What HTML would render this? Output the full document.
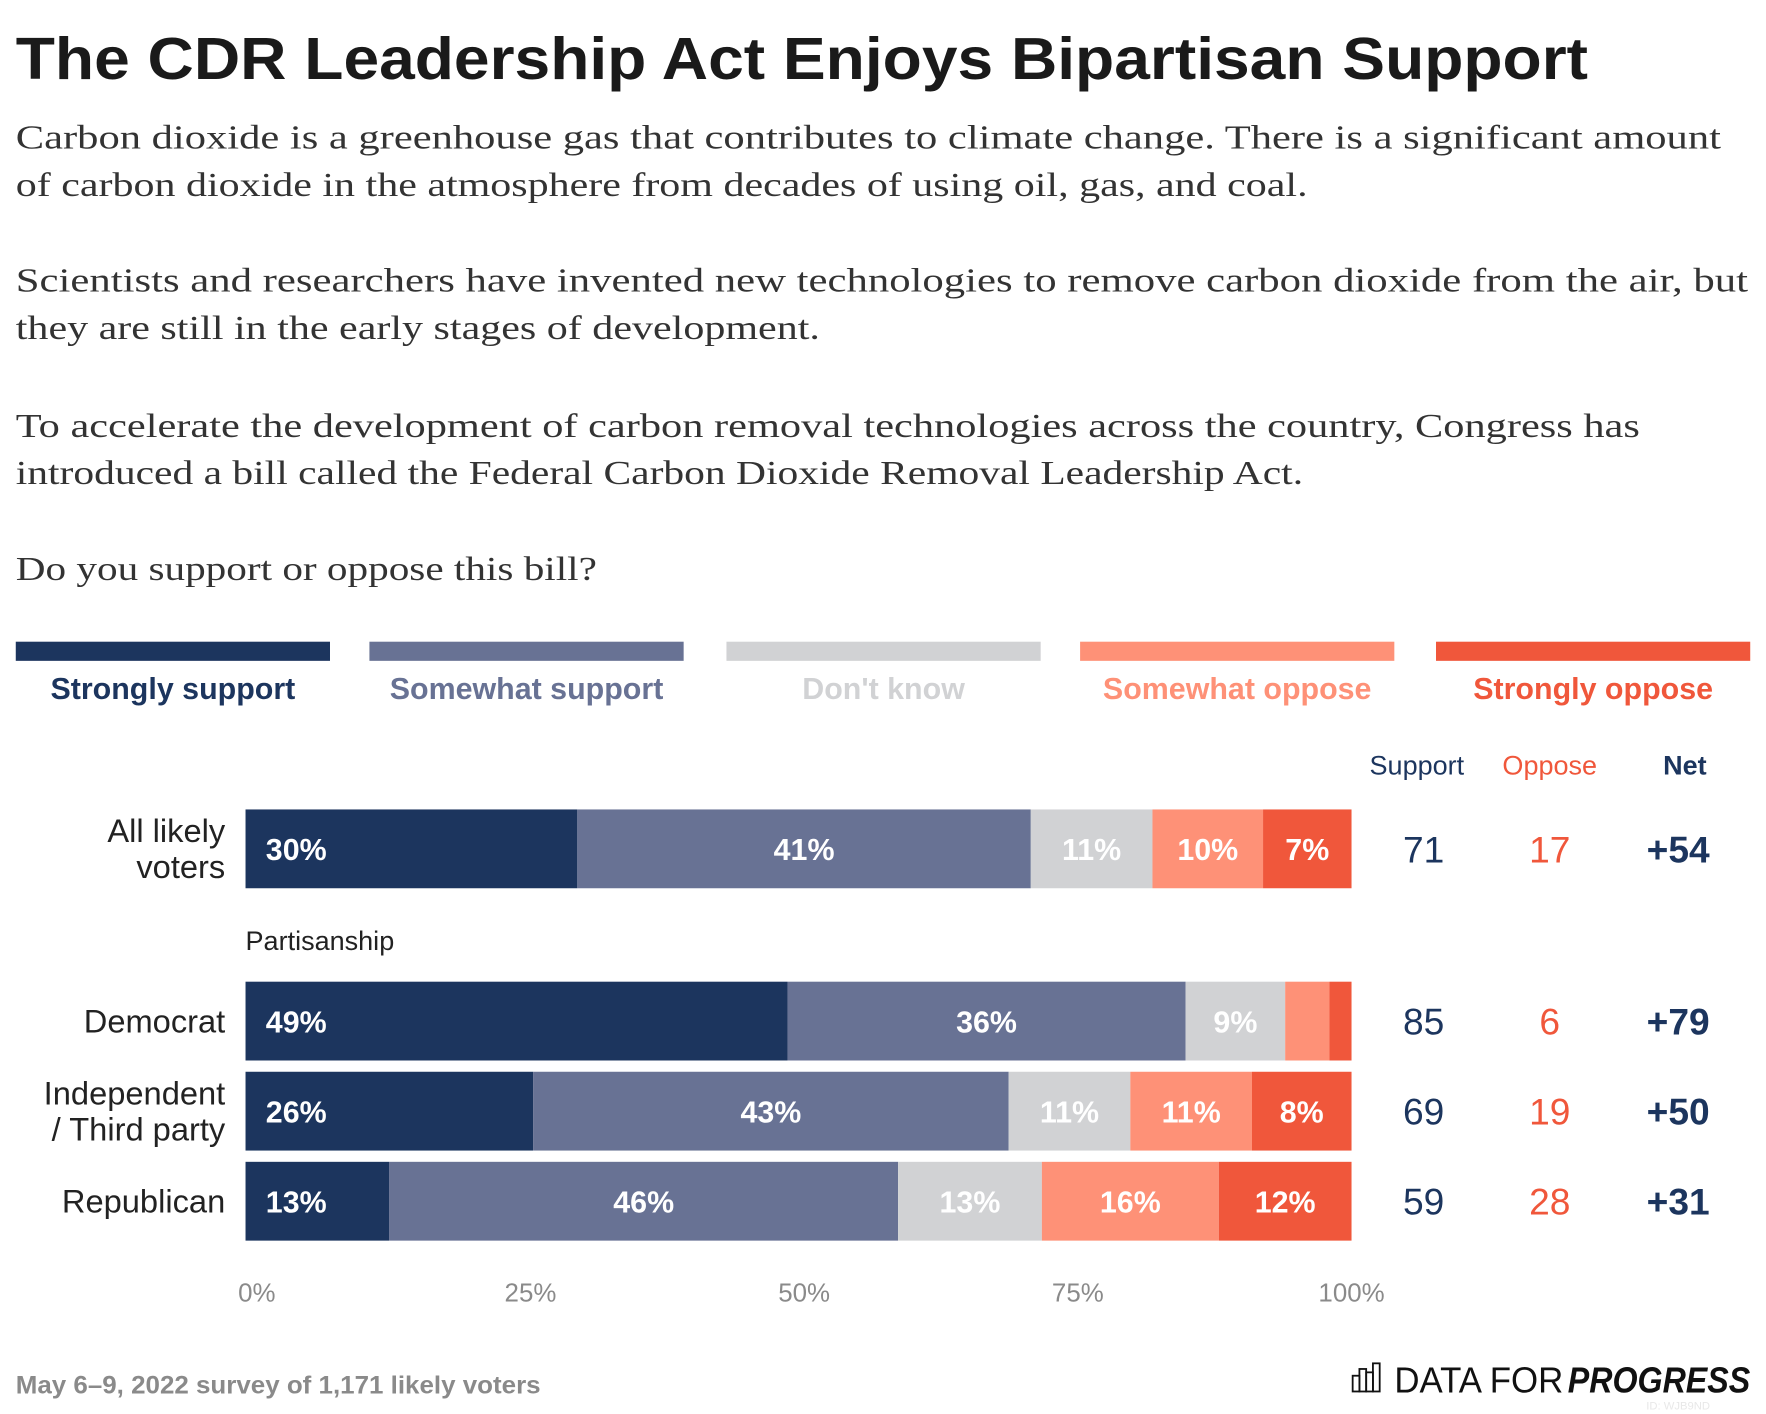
<!DOCTYPE html>
<html><head><meta charset="utf-8">
<style>
html,body{margin:0;padding:0;background:#fff;}
svg{display:block;}
.sans{font-family:"Liberation Sans",sans-serif;}
.serif{font-family:"Liberation Serif",serif;}
</style></head>
<body>
<svg id="chart" width="1766" height="1414" viewBox="0 0 1568 1256" preserveAspectRatio="none" xmlns="http://www.w3.org/2000/svg">
<rect width="1568" height="1256" fill="#fff"/>
<text class="sans" x="14" y="70" font-size="53" font-weight="bold" fill="#1a1a1a" textLength="1396" lengthAdjust="spacingAndGlyphs">The CDR Leadership Act Enjoys Bipartisan Support</text>
<g class="serif" font-size="30" fill="#333">
<text x="14" y="132" textLength="1514" lengthAdjust="spacingAndGlyphs">Carbon dioxide is a greenhouse gas that contributes to climate change. There is a significant amount</text>
<text x="14" y="174" textLength="1147" lengthAdjust="spacingAndGlyphs">of carbon dioxide in the atmosphere from decades of using oil, gas, and coal.</text>
<text x="14" y="259" textLength="1538" lengthAdjust="spacingAndGlyphs">Scientists and researchers have invented new technologies to remove carbon dioxide from the air, but</text>
<text x="14" y="301" textLength="714" lengthAdjust="spacingAndGlyphs">they are still in the early stages of development.</text>
<text x="14" y="388" textLength="1442" lengthAdjust="spacingAndGlyphs">To accelerate the development of carbon removal technologies across the country, Congress has</text>
<text x="14" y="430" textLength="1143" lengthAdjust="spacingAndGlyphs">introduced a bill called the Federal Carbon Dioxide Removal Leadership Act.</text>
<text x="14" y="515" textLength="516" lengthAdjust="spacingAndGlyphs">Do you support or oppose this bill?</text>
</g>
<g id="legend"></g>
<g id="bars"></g>
<g id="axis"></g>
<text class="sans" x="218" y="844" font-size="24" fill="#222">Partisanship</text>
<g class="sans" font-size="24" text-anchor="middle">
<text x="1258" y="688" fill="#1c355e">Support</text>
<text x="1376" y="688" fill="#f0573b">Oppose</text>
<text x="1496" y="688" fill="#1c355e" font-weight="bold">Net</text>
</g>
<text class="sans" x="14" y="1238" font-size="22" font-weight="bold" fill="#8a8a8a" textLength="466" lengthAdjust="spacingAndGlyphs">May 6–9, 2022 survey of 1,171 likely voters</text>
<g>
<rect x="1201" y="1222" width="6" height="14" fill="none" stroke="#111" stroke-width="1.6"/>
<rect x="1207" y="1216" width="6" height="20" fill="none" stroke="#111" stroke-width="1.6"/>
<rect x="1213" y="1219" width="6" height="17" fill="none" stroke="#111" stroke-width="1.6"/>
<rect x="1219" y="1211" width="6" height="25" fill="none" stroke="#111" stroke-width="1.6"/>
<text class="sans" x="1238" y="1237" font-size="32" fill="#111" textLength="150" lengthAdjust="spacingAndGlyphs">DATA FOR</text>
<text class="sans" x="1392" y="1237" font-size="32" font-weight="bold" font-style="italic" fill="#111" textLength="162" lengthAdjust="spacingAndGlyphs">PROGRESS</text>
<text x="1490" y="1252" font-size="10" fill="#e8e8e8" class="sans" text-anchor="middle">ID: WJB9ND</text>
</g>
</svg>
<script>
const categories = ["Strongly support","Somewhat support","Don't know","Somewhat oppose","Strongly oppose"];
const rowLabels = [["All likely","voters"],["Democrat"],["Independent","/ Third party"],["Republican"]];
const strongSupport = [30,49,26,13];
const someSupport = [41,36,43,46];
const dontKnow = [11,9,11,13];
const someOppose = [10,4,11,16];
const strongOppose = [7,2,8,12];
const supportTotals = [71,85,69,59];
const opposeTotals = [17,6,19,28];
const netValues = ["+54","+79","+50","+31"];
const tickValues = [0,25,50,75,100];
const tickLabels = ["0%","25%","50%","75%","100%"];

const colors = ["#1c355e","#687294","#d1d2d4","#fe9177","#f0573b"];
const NS = "http://www.w3.org/2000/svg";
const X0 = 218, X1 = 1200;
const x = v => X0 + (X1 - X0) * v / 100;
const rowY = [719, 872, 952, 1032];
const barH = 70;
function mk(tag, attrs, parent, text){
  const e = document.createElementNS(NS, tag);
  for (const k in attrs) e.setAttribute(k, attrs[k]);
  if (text !== undefined) e.textContent = text;
  parent.appendChild(e); return e;
}
const lg = document.getElementById('legend');
const legX = [14, 328, 645, 959, 1275], legW = 279;
categories.forEach((c,i)=>{
  const r = mk('rect',{x:legX[i],y:570,width:legW,height:17,fill:colors[i]},lg);
  
  
  const t = mk('text',{x:legX[i]+legW/2,y:621,'text-anchor':'middle','font-size':27,'font-weight':'bold',fill:colors[i],'font-family':'Liberation Sans, sans-serif'},lg,c);
  
  
});
const bg = document.getElementById('bars');
const series = [strongSupport, someSupport, dontKnow, someOppose, strongOppose];
rowLabels.forEach((lab,r)=>{
  const y = rowY[r];
  const vals = series.map(s=>s[r]);
  let acc = 0;
  vals.forEach((v,i)=>{
    const a = acc, b = (i === vals.length-1) ? 100 : Math.min(100, acc+v);
    const rc = mk('rect',{x:x(a),y:y,width:x(b)-x(a),height:barH,fill:colors[i]},bg);
    
    
    if (v >= 7) {
      const tx = i===0 ? x(a)+18 : (x(a)+x(b))/2;
      const t = mk('text',{x:tx,y:y+barH/2+10,'text-anchor':i===0?'start':'middle','font-size':27,'font-weight':'bold',fill:'#fff','font-family':'Liberation Sans, sans-serif'},bg,v+'%');
      
      
    }
    acc += v;
  });
  const n = lab.length;
  lab.forEach((ln,k)=>{
    const t = mk('text',{x:200,y:y+barH/2+10+(k-(n-1)/2)*32,'text-anchor':'end','font-size':29,fill:'#222','font-family':'Liberation Sans, sans-serif'},bg,ln);
    
    
  });
  const cy = y+barH/2+12;
  const s1 = mk('text',{x:1264,y:cy,'text-anchor':'middle','font-size':33,fill:'#1c355e','font-family':'Liberation Sans, sans-serif'},bg,supportTotals[r]);
  
  
  const s2 = mk('text',{x:1376,y:cy,'text-anchor':'middle','font-size':33,fill:'#f0573b','font-family':'Liberation Sans, sans-serif'},bg,opposeTotals[r]);
  
  
  const s3 = mk('text',{x:1490,y:cy,'text-anchor':'middle','font-size':33,'font-weight':'bold',fill:'#1c355e','font-family':'Liberation Sans, sans-serif'},bg,netValues[r]);
  
  
});
const ax = document.getElementById('axis');
tickValues.forEach((v,i)=>{
  const t = mk('text',{x:x(v)+10*(1-v/100),y:1156,'text-anchor':'middle','font-size':23,fill:'#8a8a8a','font-family':'Liberation Sans, sans-serif'},ax,tickLabels[i]);
  
  
});
</script>
</body></html>
